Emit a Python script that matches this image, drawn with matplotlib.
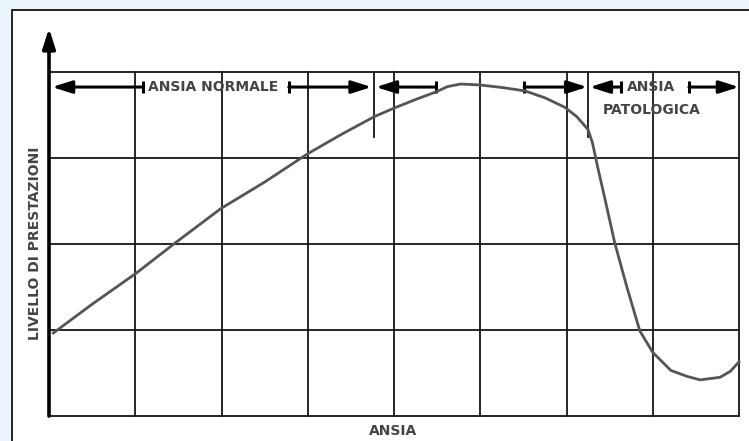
import numpy as np
import matplotlib.pyplot as plt
from matplotlib.patches import Rectangle

# curva prestazioni / ansia (unita' = celle della griglia)
ansia_x = [0.05, 0.5, 1.01, 1.46, 1.99, 2.5, 3.0, 3.4, 3.77, 4.0, 4.25, 4.49, 4.62, 4.77,
           4.99, 5.25, 5.52, 5.75, 5.98, 6.12, 6.19, 6.25, 6.3, 6.36, 6.44, 6.5, 6.56,
           6.7, 6.85, 7.0, 7.21, 7.4, 7.55, 7.78, 7.9, 8.0]
prestazioni_y = [0.965, 1.3, 1.66, 2.01, 2.41, 2.72, 3.05, 3.28, 3.48, 3.58, 3.68, 3.77, 3.83, 3.86,
                 3.85, 3.82, 3.78, 3.7, 3.59, 3.48, 3.40, 3.33, 3.18, 2.9, 2.55, 2.28, 2.01,
                 1.5, 0.99, 0.74, 0.53, 0.46, 0.42, 0.45, 0.52, 0.63]

# frecce in alto: (partenza con barra, punta)
frecce = [(1.09, 0.035), (2.78, 3.74), (4.49, 3.79), (5.51, 6.24), (6.63, 6.27), (7.42, 8.0)]
linee_extra = [3.77, 6.25]
riga_frecce = 3.825

font = 'DejaVu Sans'
grigio = '#444444'
nero = '#151515'

fig = plt.figure(figsize=(7.49, 4.41), dpi=100, facecolor='#eaf5fb')
fig.patches.append(Rectangle((12 / 749, -0.1), 1.1, (431 + 44.1) / 441,
                             transform=fig.transFigure, facecolor='white',
                             edgecolor='black', linewidth=1.2, zorder=-10))

ax = fig.add_axes([49 / 749, 25 / 441, 690 / 749, 344 / 441], zorder=5)
ax.set_xlim(0, 8)
ax.set_ylim(0, 4)
ax.set_facecolor('none')
for s in ax.spines.values():
    s.set_visible(False)
ax.set_xticks([])
ax.set_yticks([])

# griglia
for x in range(1, 9):
    ax.plot([x, x], [0, 4], color=nero, lw=1.3, clip_on=False)
for y in range(0, 5):
    ax.plot([0, 8], [y, y], color=nero, lw=1.3, clip_on=False)
for x in linee_extra:
    ax.plot([x, x], [3.24, 4], color=nero, lw=1.3)

# asse verticale con freccia
ax.annotate('', xy=(0, 4.51), xytext=(0, 0), xycoords='data',
            arrowprops=dict(arrowstyle='-|>,head_length=1.2,head_width=0.38',
                            color='black', lw=2.6, shrinkA=0, shrinkB=0),
            annotation_clip=False)

# frecce orizzontali
for a, b in frecce:
    ax.annotate('', xy=(b, riga_frecce), xytext=(a, riga_frecce),
                arrowprops=dict(arrowstyle='-|>,head_length=1.2,head_width=0.38',
                                color='black', lw=2.2, shrinkA=0, shrinkB=0),
                annotation_clip=False)
    ax.plot([a, a], [riga_frecce - 0.065, riga_frecce + 0.065], color='black', lw=2.2,
            solid_capstyle='butt')

ax.plot(ansia_x, prestazioni_y, color='#555555', lw=2.0, clip_on=False, zorder=3,
        solid_joinstyle='round')

ax.text(1.9, riga_frecce, 'ANSIA NORMALE', family=font, fontweight='bold', fontsize=10,
        color=grigio, ha='center', va='center')
ax.text(6.98, riga_frecce, 'ANSIA', family=font, fontweight='bold', fontsize=10,
        color=grigio, ha='center', va='center')
ax.text(6.99, 3.56, 'PATOLOGICA', family=font, fontweight='bold', fontsize=10,
        color=grigio, ha='center', va='center')

fig.text(35 / 749, 1 - 243 / 441, 'LIVELLO DI PRESTAZIONI', family=font, fontweight='bold',
         fontsize=10, color=grigio, rotation=90, ha='center', va='center')
fig.text(393 / 749, 1 - 431 / 441, 'ANSIA', family=font, fontweight='bold',
         fontsize=10, color=grigio, ha='center', va='center')

fig.savefig('out.png', dpi=100, facecolor=fig.get_facecolor())
